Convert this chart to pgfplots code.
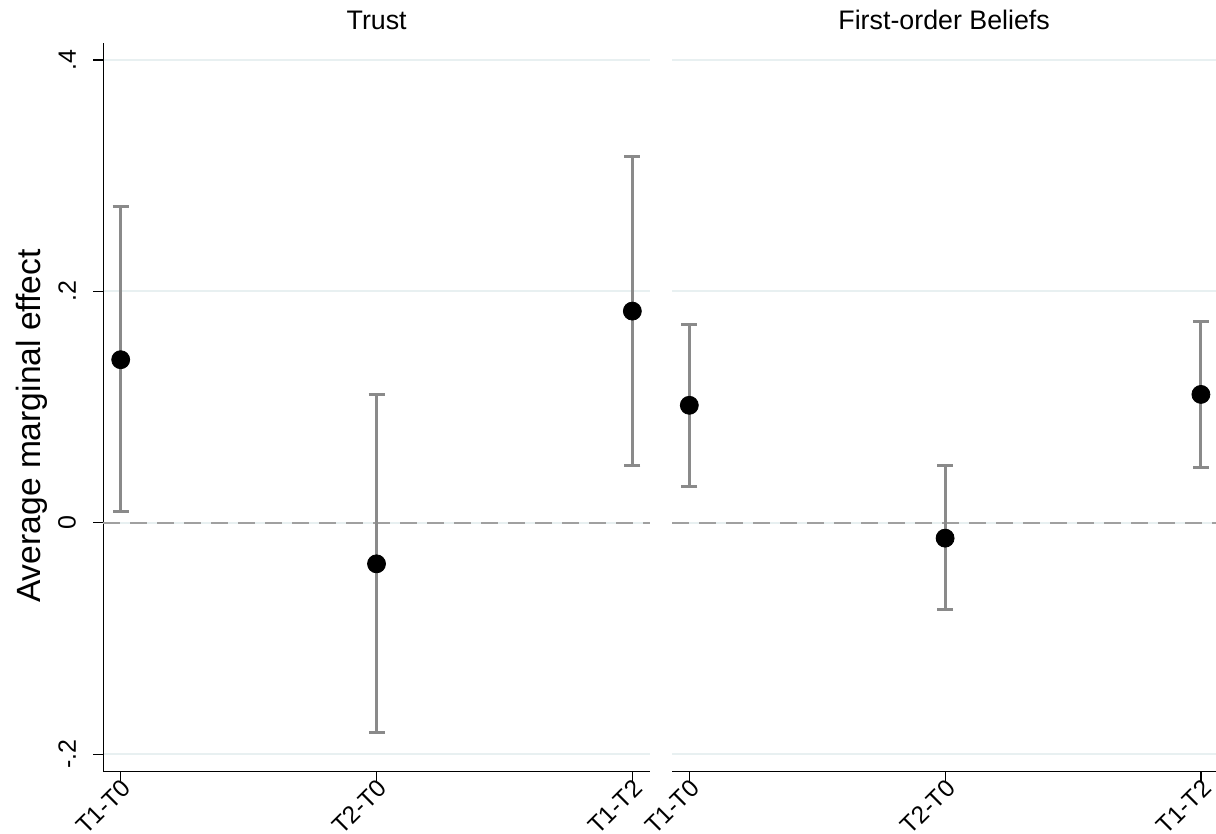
\documentclass[border=0pt]{standalone}
\usepackage{pgfplots}
\pgfplotsset{compat=1.18}
\usepackage{pgfplotstable}
\usepackage{fontspec}
\setmainfont{Liberation Sans}
\definecolor{bargray}{HTML}{8A8A8A}
\definecolor{gridc}{HTML}{E8F0F1}
\definecolor{zeroc}{HTML}{A0A0A0}

\pgfplotstableread{
x y lo hi
0 0.141 0.0095 0.273
1 -0.0354 -0.181 0.1105
2 0.183 0.050 0.317
}\trust
\pgfplotstableread{
x y lo hi
0 0.1016 0.031 0.171
1 -0.0132 -0.0745 0.050
2 0.111 0.0475 0.174
}\beliefs

\pgfplotsset{
  every axis title shift=0pt,
  panel/.style={
    scale only axis,
    height=364.15pt,
    ymin=-0.2147, ymax=0.4147,
    xmin=-0.068,
    axis x line*=bottom,
    axis y line*=left,
    axis line style={line width=0.6pt, black},
    tick style={line width=0.6pt, black},
    tick align=outside,
    major tick length=5pt,
    xtick={0,1,2},
    xticklabels={T1-T0,T2-T0,T1-T2},
    xticklabel style={rotate=45, anchor=north east, inner sep=0.5pt, xshift=1.8pt, yshift=2pt, font=\fontsize{12.2}{14}\selectfont},
    ytick={-0.2,0,0.2,0.4},
    ymajorgrids,
    grid style={gridc, line width=1pt},
    clip=false,
    title style={at={(0.5,1)}, anchor=base, yshift=6.5pt, font=\fontsize{13.4}{16}\selectfont},
  },
  ci/.style={only marks, mark=*, mark size=4.5pt,
    mark options={fill=black, draw=black},
    error bars/.cd, y dir=both, y explicit,
    error bar style={bargray, line width=1.5pt},
    error mark options={rotate=90, mark size=4pt, line width=1.5pt, bargray}},
}

\begin{document}
\begin{tikzpicture}
\useasboundingbox (0,0) rectangle (608pt,-417pt);

\begin{axis}[panel,
  at={(51.65pt,-385.65pt)}, anchor=south west,
  width=273.35pt, xmax=2.069,
  yticklabels={-.2,0,.2,.4},
  yticklabel style={rotate=90, anchor=south, inner sep=0pt, inner ysep=8.5pt, font=\fontsize{12.5}{14}\selectfont},
  title={Trust},
]
\addplot[zeroc, line width=1pt, dash pattern=on 8.5pt off 5pt] coordinates {(-0.068,0) (2.069,0)};
\addplot[ci] table[x=x, y=y, y error plus expr=\thisrow{hi}-\thisrow{y}, y error minus expr=\thisrow{y}-\thisrow{lo}] {\trust};
\end{axis}

\begin{axis}[panel,
  at={(336.15pt,-385.65pt)}, anchor=south west,
  width=271.85pt, xmax=2.059, xmin=-0.0665,
  y axis line style={draw=none},
  ytick style={draw=none},
  yticklabels={},
  title={First-order Beliefs},
]
\addplot[zeroc, line width=1pt, dash pattern=on 8.5pt off 5pt] coordinates {(-0.0665,0) (2.059,0)};
\addplot[ci] table[x=x, y=y, y error plus expr=\thisrow{hi}-\thisrow{y}, y error minus expr=\thisrow{y}-\thisrow{lo}] {\beliefs};
\end{axis}

\node[rotate=90, anchor=base, font=\fontsize{16.8}{19}\selectfont] at (20pt,-213pt) {Average marginal effect};
\end{tikzpicture}
\end{document}
